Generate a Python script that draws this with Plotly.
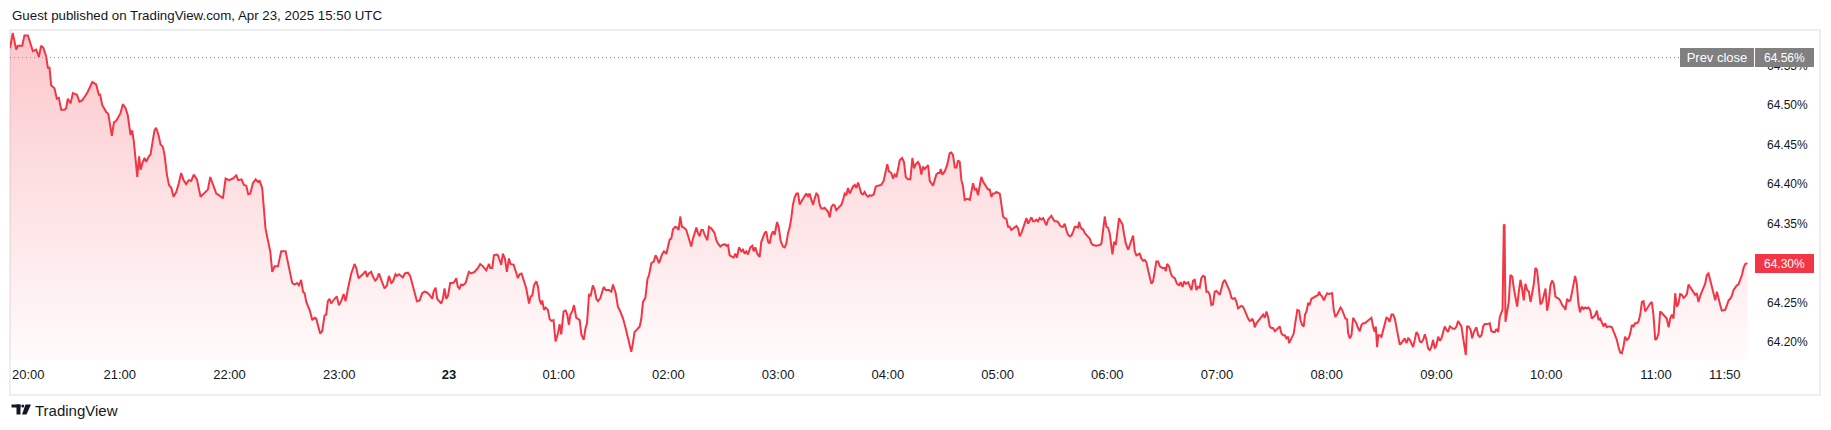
import pandas as pd
import plotly.graph_objects as go

# ---------------- data ----------------
session_start = pd.Timestamp("2025-04-22 20:00")
prev_close = 64.56

# minutes after 20:00 UTC and yield values (%), in segments
minutes_1 = [0, 1.5, 3.4, 4.3, 6.7, 7.9, 9.8, 11.6, 12.5, 14.3,
             15.8, 17.0, 18.3, 19.8, 20.7, 21.6, 22.5, 24.3, 25.6, 26.7,
             28.0, 29.8, 30.7, 31.6, 33.1, 34.4, 36.6, 38.0, 39.5, 41.3,
             42.6, 45.0, 47.1, 48.6, 49.3, 50.4, 52.6, 53.7, 54.8, 55.7,
             56.8, 58.1, 60.3, 61.7, 63.2, 64.4, 65.9, 66.8, 67.7, 69.0,
             69.6, 70.6, 71.4, 72.6, 73.6, 74.5, 75.9, 76.8, 77.7, 79.0,
             79.9, 81.2, 82.3, 83.6, 84.5, 85.8, 86.9, 88.2, 89.4, 90.9,
             92.3, 93.6, 94.9, 96.3, 97.8, 99.1, 100.5, 102.2, 104.2, 105.8,
             106.9, 108.2, 109.5, 110.9, 112.8, 114.2, 116.4, 117.9, 119.7, 121.9,
             123.7, 124.8, 126.6, 127.9, 129.2, 130.3, 131.4, 132.8, 134.3, 135.5,
             136.5, 137.9, 139.7, 141.2, 142.3, 143.4, 144.7, 146.5, 148.3, 150.7,
             152.1]
values_1 = [64.572, 64.591, 64.570, 64.575, 64.575, 64.588, 64.588, 64.576, 64.568, 64.570,
            64.561, 64.575, 64.572, 64.561, 64.547, 64.547, 64.525, 64.521, 64.508, 64.509,
            64.494, 64.494, 64.496, 64.508, 64.502, 64.515, 64.513, 64.504, 64.506, 64.512,
            64.517, 64.529, 64.526, 64.513, 64.513, 64.500, 64.491, 64.489, 64.475, 64.461,
            64.478, 64.480, 64.489, 64.501, 64.496, 64.487, 64.462, 64.468, 64.454, 64.420,
            64.409, 64.435, 64.418, 64.428, 64.433, 64.428, 64.435, 64.437, 64.450, 64.468,
            64.471, 64.462, 64.450, 64.447, 64.437, 64.412, 64.399, 64.395, 64.384, 64.390,
            64.401, 64.414, 64.405, 64.400, 64.405, 64.404, 64.412, 64.406, 64.384, 64.388,
            64.390, 64.393, 64.409, 64.401, 64.388, 64.386, 64.382, 64.407, 64.405, 64.407,
            64.411, 64.405, 64.406, 64.399, 64.398, 64.387, 64.388, 64.401, 64.406, 64.403,
            64.404, 64.395, 64.344, 64.327, 64.315, 64.289, 64.296, 64.296, 64.315, 64.315,
            64.298]

minutes_2 = [154.3, 155.6, 156.9, 158.0, 159.2, 160.2, 161.1, 162.0, 163.8, 165.3,
             166.5, 167.4, 169.6, 170.7, 172.0, 172.9, 173.8, 174.7, 175.6, 177.5,
             178.7, 179.8, 181.1, 182.4, 183.5, 184.8, 186.6, 188.4, 189.3, 190.6,
             192.1, 193.3, 194.4, 195.2, 196.2, 197.5, 198.4, 199.7, 200.6, 201.7,
             203.0, 204.8, 206.1, 207.2, 208.5, 209.4, 210.8, 211.6, 212.7, 214.0,
             214.8, 215.9, 217.6, 218.8, 220.3, 221.2, 222.5, 224.0, 225.4, 226.7,
             228.0, 229.4, 230.9, 231.6, 232.7, 233.6, 234.9, 235.8, 236.7, 237.6,
             238.5, 239.5, 240.7, 242.2, 243.1, 244.0, 244.9, 245.8, 246.7, 247.7,
             249.1, 250.0, 250.9, 252.2, 254.0, 255.9, 257.1, 258.6, 260.4, 261.9,
             262.6, 263.7, 264.6, 265.9, 266.8, 268.6, 269.5, 270.6, 271.7, 272.8,
             273.7, 275.4, 276.5, 277.7, 278.6, 279.7, 280.8, 282.3, 283.8, 284.7,
             285.6, 286.5, 287.8, 288.7, 289.6, 290.5, 291.0, 292.0, 292.9, 294.1,
             295.1, 296.1, 297.2, 298.3, 299.6, 300.5, 301.4, 302.7, 303.8, 304.7,
             305.6, 306.4, 307.4, 308.4, 309.6, 310.5]
values_2 = [64.275, 64.273, 64.275, 64.272, 64.279, 64.264, 64.262, 64.251, 64.241, 64.228,
            64.231, 64.230, 64.211, 64.214, 64.234, 64.235, 64.252, 64.255, 64.249, 64.255,
            64.258, 64.247, 64.252, 64.261, 64.252, 64.268, 64.287, 64.299, 64.294, 64.281,
            64.284, 64.287, 64.290, 64.283, 64.287, 64.289, 64.283, 64.278, 64.280, 64.287,
            64.279, 64.268, 64.272, 64.284, 64.275, 64.277, 64.286, 64.284, 64.286, 64.283,
            64.282, 64.287, 64.288, 64.284, 64.272, 64.264, 64.252, 64.253, 64.262, 64.264,
            64.263, 64.260, 64.255, 64.264, 64.269, 64.255, 64.251, 64.249, 64.255, 64.268,
            64.255, 64.259, 64.275, 64.275, 64.277, 64.281, 64.270, 64.268, 64.273, 64.272,
            64.275, 64.283, 64.289, 64.287, 64.289, 64.294, 64.299, 64.296, 64.291, 64.299,
            64.294, 64.294, 64.310, 64.311, 64.310, 64.298, 64.312, 64.306, 64.289, 64.306,
            64.299, 64.298, 64.289, 64.281, 64.286, 64.287, 64.279, 64.268, 64.249, 64.258,
            64.259, 64.272, 64.277, 64.270, 64.253, 64.248, 64.253, 64.241, 64.244, 64.241,
            64.229, 64.227, 64.228, 64.201, 64.211, 64.223, 64.210, 64.239, 64.240, 64.235,
            64.222, 64.235, 64.239, 64.247, 64.231, 64.230]

minutes_3 = [311.5, 312.4, 313.7, 314.7, 315.5, 316.6, 317.5, 318.7, 319.7, 320.6,
             321.5, 322.8, 324.6, 325.7, 327.5, 328.8, 329.7, 331.2, 332.4, 333.7,
             335.2, 336.6, 337.9, 338.8, 339.7, 340.6, 341.5, 342.8, 344.3, 345.2,
             346.1, 347.4, 348.5, 349.4, 350.7, 352.0, 353.0, 353.9, 354.8, 355.8,
             356.7, 357.6, 358.9, 359.8, 360.7, 361.6, 362.5, 363.8, 364.7, 365.6,
             366.5, 367.4, 368.5, 369.8, 371.3, 372.5, 373.4, 374.4, 375.3, 376.2,
             377.1, 378.0, 378.9, 379.8, 381.3, 382.2, 383.5, 385.3, 386.2, 387.1,
             388.4, 389.5, 390.8, 391.7, 392.6, 393.5, 394.8, 395.7, 396.6, 397.5,
             398.6, 399.9, 400.8, 401.7, 402.6, 403.5, 404.8, 405.9, 406.6, 407.5,
             408.6, 409.9, 410.8, 411.7, 412.6, 413.5, 414.5, 415.4, 416.3, 417.2,
             418.1, 419.4, 420.3, 421.4, 422.7, 423.6, 424.5, 425.4, 426.3, 427.2,
             428.1, 429.0, 430.0, 430.9, 431.8, 432.7, 433.6, 434.5, 435.4, 436.3,
             437.2, 438.2, 439.1, 440.0, 440.9, 441.8, 442.7, 443.6, 444.5, 445.4,
             446.4, 447.3, 448.2, 449.1, 450.0, 450.9, 451.8, 452.7, 453.7, 454.6,
             455.5, 456.4, 457.3, 458.2, 459.1, 460.0, 461.0, 461.9, 462.8, 463.7,
             464.6, 465.5, 466.4, 467.3, 468.2, 469.2]
values_3 = [64.228, 64.210, 64.203, 64.218, 64.224, 64.260, 64.259, 64.272, 64.266, 64.255,
            64.252, 64.256, 64.270, 64.266, 64.266, 64.264, 64.273, 64.262, 64.245, 64.239,
            64.230, 64.218, 64.205, 64.199, 64.188, 64.199, 64.213, 64.216, 64.220, 64.230,
            64.251, 64.256, 64.279, 64.285, 64.300, 64.302, 64.310, 64.306, 64.300, 64.306,
            64.312, 64.315, 64.312, 64.321, 64.330, 64.331, 64.343, 64.346, 64.345, 64.342,
            64.359, 64.346, 64.345, 64.342, 64.331, 64.321, 64.331, 64.338, 64.345, 64.338,
            64.334, 64.342, 64.342, 64.336, 64.329, 64.346, 64.344, 64.338, 64.329, 64.325,
            64.321, 64.323, 64.324, 64.322, 64.323, 64.310, 64.308, 64.307, 64.312, 64.307,
            64.320, 64.315, 64.317, 64.312, 64.315, 64.311, 64.320, 64.322, 64.315, 64.320,
            64.312, 64.308, 64.327, 64.334, 64.338, 64.340, 64.327, 64.325, 64.336, 64.340,
            64.336, 64.352, 64.346, 64.328, 64.321, 64.320, 64.325, 64.338, 64.345, 64.357,
            64.374, 64.383, 64.388, 64.388, 64.374, 64.378, 64.382, 64.386, 64.388, 64.384,
            64.388, 64.380, 64.374, 64.382, 64.388, 64.386, 64.374, 64.369, 64.369, 64.370,
            64.367, 64.365, 64.358, 64.371, 64.374, 64.373, 64.367, 64.369, 64.371, 64.374,
            64.380, 64.388, 64.386, 64.395, 64.388, 64.393, 64.397, 64.399, 64.395, 64.402,
            64.395, 64.388, 64.387, 64.390, 64.386, 64.384]

minutes_4 = [470.1, 471.0, 472.3, 473.4, 474.6, 476.4, 477.7, 478.8, 479.7, 480.6,
             481.9, 482.8, 483.7, 484.7, 485.6, 486.5, 487.8, 488.8, 489.8, 491.0,
             492.3, 493.4, 494.3, 495.2, 496.5, 497.4, 498.3, 499.2, 500.1, 501.1,
             502.0, 502.9, 503.8, 504.7, 505.6, 506.5, 507.4, 508.4, 508.9, 509.8,
             511.1, 512.4, 513.8, 514.7, 515.6, 516.6, 517.5, 518.4, 519.3, 520.2,
             521.1, 522.0, 523.0, 523.9, 524.8, 525.7, 526.6, 527.5, 528.4, 529.3,
             530.2, 531.1, 532.1, 533.0, 533.9, 534.8, 535.7, 536.6, 537.5, 538.4,
             539.3, 540.3, 541.2, 542.1, 543.0, 543.9, 544.8, 545.7, 546.6, 547.5,
             548.5, 549.4, 550.3, 551.2, 552.1, 553.0, 553.9, 554.8, 555.8, 556.7,
             557.6, 558.5, 559.4, 560.3, 561.2, 562.1, 563.0, 564.0, 564.9, 565.8,
             566.7, 567.6, 568.5, 569.4, 570.3, 571.2, 572.2, 573.1, 574.0, 574.9,
             575.8, 576.7, 577.6, 578.5, 579.5, 580.4, 581.3, 582.2, 583.1, 584.0,
             584.6, 585.3, 586.2, 586.7, 587.7, 588.6, 589.5, 590.4, 591.3, 592.2,
             594.0, 595.9, 596.8, 597.7, 598.6, 599.5, 600.4, 601.3, 602.2, 602.8,
             603.7, 604.6, 605.3, 606.4, 607.3, 608.3, 609.2, 610.1, 611.4, 612.3,
             613.2, 614.1, 615.0, 615.9, 616.8, 617.7, 618.6, 619.6, 620.5, 621.4,
             622.3, 623.2, 624.1, 625.0, 625.9, 626.8, 627.8]
values_4 = [64.386, 64.385, 64.387, 64.397, 64.398, 64.399, 64.404, 64.416, 64.425, 64.416,
            64.414, 64.407, 64.412, 64.409, 64.418, 64.430, 64.433, 64.428, 64.409, 64.406,
            64.406, 64.433, 64.420, 64.425, 64.428, 64.424, 64.412, 64.422, 64.419, 64.422,
            64.424, 64.404, 64.400, 64.398, 64.405, 64.412, 64.414, 64.414, 64.419, 64.412,
            64.416, 64.424, 64.439, 64.440, 64.437, 64.421, 64.421, 64.430, 64.428, 64.405,
            64.397, 64.380, 64.381, 64.381, 64.380, 64.390, 64.401, 64.393, 64.394, 64.386,
            64.399, 64.409, 64.403, 64.399, 64.397, 64.393, 64.393, 64.384, 64.388, 64.388,
            64.390, 64.389, 64.388, 64.374, 64.359, 64.357, 64.356, 64.346, 64.346, 64.342,
            64.344, 64.346, 64.347, 64.344, 64.334, 64.338, 64.344, 64.350, 64.357, 64.350,
            64.355, 64.358, 64.353, 64.353, 64.355, 64.353, 64.357, 64.355, 64.357, 64.353,
            64.348, 64.355, 64.357, 64.360, 64.356, 64.353, 64.353, 64.352, 64.348, 64.346,
            64.346, 64.350, 64.342, 64.336, 64.334, 64.335, 64.340, 64.346, 64.346, 64.345,
            64.352, 64.346, 64.343, 64.343, 64.338, 64.336, 64.334, 64.331, 64.325, 64.323,
            64.322, 64.323, 64.325, 64.340, 64.359, 64.346, 64.345, 64.338, 64.325, 64.311,
            64.327, 64.323, 64.336, 64.357, 64.353, 64.349, 64.336, 64.325, 64.317, 64.323,
            64.329, 64.335, 64.315, 64.310, 64.311, 64.312, 64.306, 64.303, 64.304, 64.301,
            64.291, 64.281, 64.274, 64.277, 64.291, 64.302, 64.302]

minutes_5 = [628.7, 630.1, 631.4, 632.0, 632.7, 633.8, 634.7, 635.6, 636.9, 638.1,
             639.2, 640.1, 641.1, 642.0, 642.9, 644.2, 645.1, 646.0, 646.9, 647.8,
             648.7, 649.6, 650.5, 651.4, 652.4, 653.3, 654.2, 655.1, 656.0, 656.9,
             657.8, 658.7, 659.7, 660.6, 661.5, 662.4, 663.3, 664.2, 665.1, 666.0,
             667.0, 667.9, 668.8, 669.7, 670.6, 671.5, 672.4, 673.3, 674.2, 675.1,
             676.1, 677.0, 677.9, 678.8, 679.3, 680.1, 680.6, 681.5, 682.4, 683.4,
             684.3, 685.2, 686.1, 687.0, 687.9, 688.8, 689.7, 690.6, 691.6, 692.5,
             693.4, 694.3, 695.2, 696.1, 697.0, 697.9, 698.9, 699.4, 700.3, 701.2,
             701.9, 703.0, 703.9, 704.9, 705.6, 706.5, 707.4, 708.1, 708.9, 709.8,
             710.7, 711.6, 712.5, 713.4, 714.3, 715.3, 715.8, 716.5, 717.4, 718.4,
             719.3, 720.2, 721.1, 722.2, 722.9, 723.8, 724.7, 725.6, 726.6, 727.5,
             728.4, 729.3, 730.2, 731.1, 731.7, 732.6, 733.5, 734.4, 735.3, 736.2,
             737.1, 738.0, 739.0, 739.9, 740.8, 741.7, 742.6, 743.5, 744.4, 745.3,
             746.2, 746.8, 747.5, 748.2, 749.0, 749.9, 750.8, 751.7, 752.6, 753.5,
             754.4, 755.4, 756.3, 757.2, 758.1, 759.0, 759.9, 760.8, 761.7, 762.6,
             763.6, 764.5, 765.4, 766.3, 767.2, 768.1, 769.0, 769.9, 770.9, 771.8,
             772.7, 773.6, 774.5, 775.4, 776.3, 777.2, 778.1, 779.1, 780.0, 780.9,
             781.8, 782.7, 783.6, 784.5, 785.4, 786.3]
values_5 = [64.296, 64.294, 64.294, 64.290, 64.299, 64.296, 64.287, 64.283, 64.281, 64.274,
            64.272, 64.276, 64.270, 64.277, 64.274, 64.276, 64.272, 64.266, 64.278, 64.279,
            64.266, 64.270, 64.269, 64.281, 64.284, 64.283, 64.264, 64.264, 64.260, 64.247,
            64.248, 64.264, 64.265, 64.262, 64.260, 64.268, 64.276, 64.279, 64.274, 64.268,
            64.264, 64.256, 64.255, 64.256, 64.251, 64.243, 64.245, 64.246, 64.245, 64.241,
            64.235, 64.230, 64.227, 64.228, 64.230, 64.225, 64.219, 64.224, 64.227, 64.229,
            64.232, 64.235, 64.231, 64.239, 64.232, 64.220, 64.218, 64.218, 64.214, 64.216,
            64.219, 64.220, 64.211, 64.209, 64.209, 64.205, 64.207, 64.199, 64.203, 64.207,
            64.211, 64.228, 64.241, 64.240, 64.228, 64.222, 64.220, 64.235, 64.239, 64.249,
            64.248, 64.255, 64.256, 64.258, 64.259, 64.260, 64.264, 64.260, 64.258, 64.253,
            64.258, 64.262, 64.261, 64.262, 64.262, 64.241, 64.232, 64.235, 64.240, 64.244,
            64.241, 64.235, 64.230, 64.229, 64.211, 64.205, 64.209, 64.231, 64.228, 64.224,
            64.218, 64.214, 64.222, 64.224, 64.224, 64.226, 64.228, 64.229, 64.231, 64.220,
            64.213, 64.220, 64.194, 64.209, 64.209, 64.207, 64.216, 64.222, 64.231, 64.230,
            64.226, 64.235, 64.235, 64.230, 64.218, 64.211, 64.197, 64.199, 64.203, 64.205,
            64.199, 64.205, 64.203, 64.199, 64.194, 64.203, 64.213, 64.210, 64.201, 64.200,
            64.203, 64.210, 64.203, 64.192, 64.190, 64.194, 64.203, 64.192, 64.197, 64.207,
            64.202, 64.205, 64.213, 64.220, 64.216, 64.213]

minutes_6 = [787.3, 788.2, 789.1, 790.0, 790.9, 791.8, 792.7, 793.6, 794.6, 795.5,
             796.0, 796.7, 797.6, 798.6, 799.5, 800.4, 801.3, 801.8, 802.8, 803.7,
             804.6, 805.5, 806.4, 807.7, 809.1, 810.0, 811.0, 811.9, 812.8, 813.7,
             814.6, 815.5, 816.1, 816.8, 817.2, 817.7, 818.6, 819.5, 820.4, 821.4,
             822.3, 823.2, 824.1, 825.0, 825.9, 826.8, 827.7, 828.6, 829.6, 830.5,
             831.4, 832.3, 833.2, 834.1, 835.0, 835.9, 836.8, 837.8, 838.7, 839.6,
             840.5, 841.4, 842.3, 843.2, 844.1, 845.0, 846.0, 846.9, 847.8, 848.7,
             849.6, 850.5, 851.4, 852.3, 853.2, 854.2, 855.1, 855.8, 856.7, 857.6,
             858.5, 859.4, 860.4, 861.3, 862.2, 863.1, 864.0, 864.9, 865.8, 866.7,
             867.7, 868.6, 869.5, 870.4, 871.3, 872.2, 873.1, 874.0, 874.9, 875.9,
             876.8, 877.7, 878.6, 879.5, 880.4, 881.3, 882.2, 883.1, 884.1, 885.0,
             885.9, 886.8, 887.7, 888.6, 889.5, 890.4, 891.4, 892.3, 893.2, 894.1,
             895.0, 895.9, 896.8, 897.7, 898.6, 899.6, 900.5, 901.4, 902.3, 903.2,
             904.1, 905.0, 905.9, 906.9, 907.8, 908.7, 909.6, 910.5, 911.4, 912.3,
             913.2, 914.1, 915.1, 916.0, 916.9, 917.8, 918.7, 919.6, 920.5, 921.4,
             922.3, 923.2, 924.2, 925.1, 926.0, 926.9, 927.8, 928.7, 929.6, 930.5,
             931.5, 932.4, 933.3, 934.2, 935.1, 936.0, 936.9, 937.8, 938.8, 939.7,
             940.6, 941.5, 942.4, 943.3, 944.2, 945.1, 946.1, 947.0, 947.9, 948.8,
             950.0]
values_6 = [64.220, 64.218, 64.217, 64.217, 64.220, 64.227, 64.224, 64.220, 64.205, 64.190,
            64.184, 64.220, 64.220, 64.216, 64.205, 64.213, 64.216, 64.219, 64.209, 64.207,
            64.209, 64.220, 64.223, 64.223, 64.224, 64.214, 64.213, 64.213, 64.217, 64.213,
            64.232, 64.239, 64.241, 64.348, 64.349, 64.226, 64.240, 64.251, 64.285, 64.283,
            64.268, 64.258, 64.245, 64.264, 64.279, 64.268, 64.253, 64.274, 64.266, 64.264,
            64.251, 64.262, 64.274, 64.294, 64.291, 64.270, 64.248, 64.251, 64.260, 64.268,
            64.240, 64.251, 64.272, 64.278, 64.274, 64.258, 64.256, 64.255, 64.252, 64.247,
            64.245, 64.241, 64.255, 64.252, 64.253, 64.266, 64.277, 64.284, 64.274, 64.249,
            64.238, 64.245, 64.242, 64.244, 64.243, 64.244, 64.241, 64.230, 64.232, 64.234,
            64.240, 64.228, 64.230, 64.226, 64.220, 64.224, 64.219, 64.220, 64.220, 64.219,
            64.214, 64.210, 64.203, 64.194, 64.187, 64.186, 64.194, 64.207, 64.203, 64.205,
            64.211, 64.222, 64.220, 64.224, 64.224, 64.226, 64.235, 64.251, 64.252, 64.239,
            64.243, 64.245, 64.249, 64.251, 64.235, 64.203, 64.205, 64.211, 64.239, 64.237,
            64.235, 64.232, 64.230, 64.219, 64.230, 64.235, 64.230, 64.262, 64.245, 64.249,
            64.261, 64.260, 64.256, 64.258, 64.261, 64.273, 64.270, 64.266, 64.264, 64.260,
            64.262, 64.251, 64.259, 64.264, 64.268, 64.274, 64.285, 64.287, 64.279, 64.270,
            64.258, 64.253, 64.264, 64.253, 64.247, 64.240, 64.241, 64.241, 64.247, 64.253,
            64.255, 64.259, 64.266, 64.270, 64.272, 64.273, 64.279, 64.285, 64.294, 64.299,
            64.300]

segments = [(minutes_1, values_1), (minutes_2, values_2), (minutes_3, values_3),
            (minutes_4, values_4), (minutes_5, values_5), (minutes_6, values_6)]
minutes, values = [], []
for m_seg, v_seg in segments:
    assert len(m_seg) == len(v_seg), (len(m_seg), len(v_seg))
    minutes += m_seg
    values += v_seg

times = session_start + pd.to_timedelta(minutes, unit="min")

hour_ticks = ["2025-04-22 21:00", "2025-04-22 22:00", "2025-04-22 23:00",
              "2025-04-23 00:00", "2025-04-23 01:00", "2025-04-23 02:00",
              "2025-04-23 03:00", "2025-04-23 04:00", "2025-04-23 05:00",
              "2025-04-23 06:00", "2025-04-23 07:00", "2025-04-23 08:00",
              "2025-04-23 09:00", "2025-04-23 10:00", "2025-04-23 11:00"]
hour_labels = ["21:00", "22:00", "23:00", "<b>23</b>", "01:00", "02:00", "03:00",
               "04:00", "05:00", "06:00", "07:00", "08:00", "09:00", "10:00", "11:00"]
first_label = "20:00"
last_label = "11:50"
# the 64.30% tick is fully hidden behind the last-price badge in the reference
price_ticks = [64.20, 64.25, 64.35, 64.40, 64.45, 64.50, 64.55]
price_labels = [f"{p:.2f}%" for p in price_ticks]

header_text = "Guest published on TradingView.com, Apr 23, 2025 15:50 UTC"
brand_text = "TradingView"

# ---------------- styling / layout ----------------
# The page body has an 8px margin, so the figure is sized/placed to compensate.
BODY = 8
W, H = 1831 - 2 * BODY, 430 - 2 * BODY
PANE_LEFT, PANE_RIGHT, PANE_TOP, PANE_BOTTOM = 10, 1752, 30, 360  # page pixels
L = PANE_LEFT - BODY
T = PANE_TOP - BODY
R = W - (PANE_RIGHT - BODY)
B = H - (PANE_BOTTOM - BODY)
PW, PH = W - L - R, H - T - B
RED = "#f23645"
TXT = "#131722"
GREY_BADGE = "#808080"
FONT = "Liberation Sans, Arial, sans-serif"

x_end = session_start + pd.Timedelta(minutes=952.5)
y_range = [64.1776, 64.5948]


def px(xp):
    """page x pixel -> paper coordinate"""
    return (xp - BODY - L) / PW


def py(yp):
    """page y pixel -> paper coordinate"""
    return 1 - (yp - BODY - T) / PH


fig = go.Figure()
fig.add_trace(go.Scatter(
    x=times, y=values, mode="lines",
    line=dict(color=RED, width=2),
    fill="tozeroy",
    fillgradient=dict(type="vertical", start=y_range[0], stop=y_range[1],
                      colorscale=[[0, "rgba(242,54,69,0.02)"],
                                  [1, "rgba(242,54,69,0.28)"]]),
    hoverinfo="skip", showlegend=False,
))

shapes = [
    # widget frame
    dict(type="rect", xref="paper", yref="paper", x0=px(10), x1=px(1820),
         y0=py(30), y1=py(395), line=dict(color="#eceef2", width=2),
         fillcolor="rgba(0,0,0,0)", layer="below"),
    # previous close dotted line
    dict(type="line", xref="paper", x0=0, x1=1, yref="y", y0=prev_close, y1=prev_close,
         line=dict(color="#8c8f99", width=1, dash="1px,3px"), layer="above"),
    # TradingView logo (approximation)
    dict(type="rect", xref="paper", yref="paper", x0=px(11.5), x1=px(20.5),
         y0=py(407.5), y1=py(404.5), line=dict(width=0), fillcolor=TXT),
    dict(type="rect", xref="paper", yref="paper", x0=px(16.5), x1=px(20.5),
         y0=py(414.5), y1=py(404.5), line=dict(width=0), fillcolor=TXT),
    dict(type="circle", xref="paper", yref="paper", x0=px(21.3), x1=px(24.3),
         y0=py(407.5), y1=py(404.5), line=dict(width=0), fillcolor=TXT),
    dict(type="path", xref="paper", yref="paper",
         path=f"M {px(25.5)},{py(404.5)} L {px(31)},{py(404.5)} L {px(26.5)},{py(414.5)} "
              f"L {px(22)},{py(414.5)} Z",
         line=dict(width=0), fillcolor=TXT),
]

annotations = [
    dict(text=header_text, xref="paper", yref="paper", x=0, y=1, xanchor="left",
         yanchor="middle", yshift=15, showarrow=False,
         font=dict(family=FONT, size=13.3, color=TXT)),
    dict(text=brand_text, xref="paper", yref="paper", x=0, y=0, xanchor="left",
         yanchor="middle", xshift=23, yshift=-50, showarrow=False,
         font=dict(family=FONT, size=15, color=TXT)),
    dict(text=first_label, xref="x", yref="paper", x=times[0], y=0, xanchor="left",
         yanchor="middle", yshift=-14.5, showarrow=False,
         font=dict(family=FONT, size=13, color=TXT)),
    dict(text=last_label, xref="x", yref="paper", x=times[-1], y=0, xanchor="right",
         yanchor="middle", xshift=-4, yshift=-14.5, showarrow=False,
         font=dict(family=FONT, size=13, color=TXT)),
    dict(text="Prev close", xref="paper", yref="y", x=1, y=prev_close, xanchor="right",
         yanchor="middle", xshift=2, showarrow=False, bgcolor=GREY_BADGE,
         width=70, height=15, borderpad=2, borderwidth=0,
         font=dict(family=FONT, size=13, color="white")),
    dict(text=f"{prev_close:.2f}%", xref="paper", yref="y", x=1, y=prev_close,
         xanchor="left", yanchor="middle", xshift=3, showarrow=False,
         bgcolor=GREY_BADGE, width=55, height=15, borderpad=2, borderwidth=0,
         font=dict(family=FONT, size=12, color="white")),
    dict(text=f"{values[-1]:.2f}%", xref="paper", yref="y", x=1, y=values[-1],
         xanchor="left", yanchor="middle", xshift=3, showarrow=False,
         bgcolor=RED, width=55, height=15, borderpad=2, borderwidth=0,
         font=dict(family=FONT, size=12, color="white")),
]

fig.update_layout(
    width=W, height=H,
    margin=dict(l=L, r=R, t=T, b=B, pad=0, autoexpand=False),
    paper_bgcolor="white", plot_bgcolor="white",
    font=dict(family=FONT, size=12, color=TXT),
    showlegend=False,
    shapes=shapes,
    annotations=annotations,
    xaxis=dict(type="date", range=[session_start, x_end], tickvals=hour_ticks,
               ticktext=hour_labels, showgrid=False, zeroline=False, showline=False,
               ticks="", ticklabelstandoff=5, tickfont=dict(family=FONT, size=13, color=TXT),
               fixedrange=True, automargin=False),
    yaxis=dict(side="right", range=y_range, tickvals=price_ticks, ticktext=price_labels,
               showgrid=False, zeroline=False, showline=False,
               ticks="", ticklabelstandoff=14, tickfont=dict(family=FONT, size=12, color=TXT),
               fixedrange=True, automargin=False),
)

fig.write_html("out.html", config={"displayModeBar": False})
